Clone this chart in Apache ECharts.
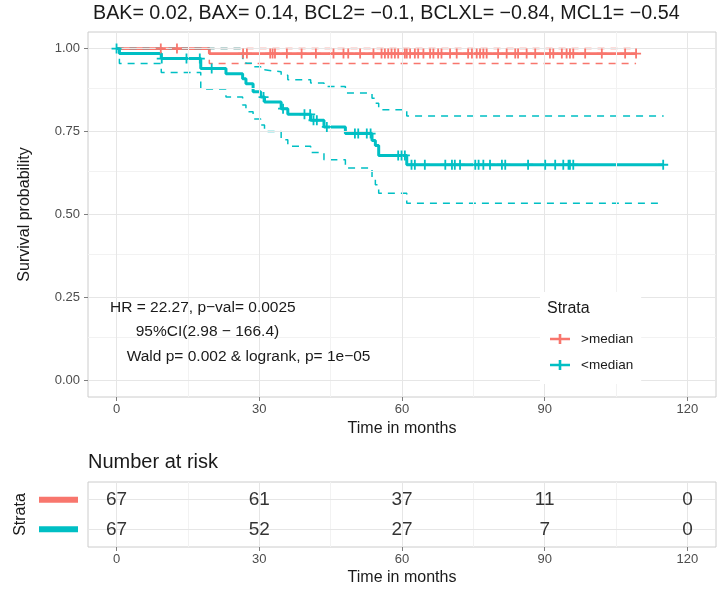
<!DOCTYPE html>
<html>
<head>
<meta charset="utf-8">
<script src="https://cdn.jsdelivr.net/npm/echarts@6/dist/echarts.min.js"></script>
<style>
  body { margin: 0; background: #fff; }
  #main { width: 727px; height: 590px; }
</style>
</head>
<body>
<div id="main"></div>
<script>
// survival steps (time in months)
var redTime  = [0, 19.5, 109.2];
var redSurv  = [1, 0.985, 0.985];
var redUpper = [1, 1, 1];
var redLower = [1, 0.955, 0.955];

var tealTime  = [0, 0.6, 9.4, 17.7, 23.0, 26.5, 27.2, 28.7, 30.3, 31.1, 34.6, 36.0, 40.8, 43.6, 48.1, 53.7, 54.4, 55.1, 61.0, 115.0];
var tealSurv  = [1, 0.985, 0.970, 0.940, 0.924, 0.909, 0.894, 0.870, 0.854, 0.839, 0.819, 0.802, 0.784, 0.764, 0.744, 0.723, 0.708, 0.678, 0.650, 0.650];
var tealUpper = [1, 1, 1, 1, 1, 0.970, 0.956, 0.945, 0.936, 0.930, 0.920, 0.906, 0.896, 0.886, 0.866, 0.850, 0.835, 0.816, 0.797, 0.797];
var tealLower = [1, 0.955, 0.928, 0.878, 0.854, 0.830, 0.810, 0.788, 0.770, 0.750, 0.725, 0.706, 0.687, 0.665, 0.640, 0.610, 0.590, 0.564, 0.534, 0.534];

// censor times
var redCensor = [9.3, 12.7, 26.6, 27.4, 32.3, 32.8, 33.3, 35.8, 38.9, 41.9, 45.6, 47.7, 48.7, 51.2, 54.0, 55.7, 56.4, 57.1, 57.8, 58.5, 59.2, 60.6,
  61.0, 61.7, 62.7, 63.4, 64.5, 65.9, 66.6, 67.6, 68.3, 70.1, 71.5, 73.9, 74.7, 75.7, 76.4, 77.1, 77.8, 80.2, 82.0, 83.8, 84.4, 86.2, 88.0,
  91.1, 91.8, 93.6, 94.6, 95.3, 96.0, 98.5, 102.0, 106.9, 109.2];
var tealCensor = [0, 9.5, 14.7, 17.5, 20.0, 30.9, 35.0, 39.5, 40.7, 41.4, 42.1, 44.2, 50.1, 50.8, 52.6, 53.4, 59.2, 59.9, 60.6, 62.0, 62.7,
  64.8, 69.1, 70.5, 71.1, 72.2, 75.4, 76.1, 77.1, 78.5, 81.0, 81.7, 86.5, 90.1, 92.2, 93.9, 95.0, 95.3, 96.0, 114.9];

// number at risk
var riskTimes = [0, 30, 60, 90, 120];
var riskAbove = [67, 61, 37, 11, 0];
var riskBelow = [67, 52, 27, 7, 0];

var xTicks = [0, 30, 60, 90, 120];
var xMinor = [15, 45, 75, 105];
var yTicks = [0, 0.25, 0.5, 0.75, 1];
var yMinor = [0.125, 0.375, 0.625, 0.875];

var colRed = '#F8766D';
var colTeal = '#00BFC4';
var gridMajor = '#E6E6E6';
var gridMinor = '#F2F2F2';
var textDark = '#1A1A1A';
var textAxis = '#4D4D4D';

var plusPath = 'path://M4.1,0H5.9V4.1H10V5.9H5.9V10H4.1V5.9H0V4.1H4.1Z';
var legendIcon = 'path://M0,3.7H20V6.3H0Z M8.7,0H11.3V10H8.7Z';

function pairs(t, v) {
    var out = [];
    for (var i = 0; i < t.length; i++) out.push([t[i], v[i]]);
    return out;
}
// value of the step curve at time t
function stepAt(t, v, x) {
    var s = v[0];
    for (var i = 0; i < t.length; i++) {
        if (t[i] <= x) s = v[i];
    }
    return s;
}
function censorPts(ct, t, v) {
    var out = [];
    for (var i = 0; i < ct.length; i++) out.push([ct[i], stepAt(t, v, ct[i])]);
    return out;
}
function gridLines(xs, ys, color) {
    var d = [];
    xs.forEach(function (x) { d.push({ xAxis: x, lineStyle: { color: color, width: 1, type: 'solid' } }); });
    ys.forEach(function (y) { d.push({ yAxis: y, lineStyle: { color: color, width: 1, type: 'solid' } }); });
    return d;
}

var chart = echarts.init(document.getElementById('main'), null, { renderer: 'canvas' });

var xAxisBase = function (idx) {
    return {
        type: 'value', gridIndex: idx, min: -6, max: 126,
        axisLine: { show: false, onZero: false },
        axisTick: { show: true, length: 4, customValues: xTicks, lineStyle: { color: '#7F7F7F' } },
        axisLabel: { customValues: xTicks, color: textAxis, fontSize: 13, margin: 6, fontFamily: 'Liberation Sans' },
        splitLine: { show: false },
        name: 'Time in months', nameLocation: 'middle', nameGap: 23,
        nameTextStyle: { fontSize: 16, color: textDark, fontFamily: 'Liberation Sans' }
    };
};

var lineSeries = function (name, data, color, width, dashed, z) {
    return {
        name: name, type: 'line', step: 'end', data: data,
        xAxisIndex: 0, yAxisIndex: 0,
        showSymbol: false, symbol: 'none', z: z,
        lineStyle: { color: color, width: width, type: dashed ? [7, 6] : 'solid' },
        itemStyle: { color: color },
        emphasis: { disabled: true }
    };
};

var censorSeries = function (name, data, color) {
    return {
        name: name, type: 'scatter', data: data,
        xAxisIndex: 0, yAxisIndex: 0,
        symbol: plusPath, symbolSize: 10, z: 6,
        itemStyle: { color: color, opacity: 1 },
        emphasis: { disabled: true }
    };
};

var riskSeries = function (row, counts) {
    var d = [];
    for (var i = 0; i < riskTimes.length; i++) d.push([riskTimes[i], row, counts[i]]);
    return {
        type: 'scatter', data: d, xAxisIndex: 1, yAxisIndex: 1,
        symbolSize: 0, z: 5,
        label: {
            show: true, position: 'inside', fontSize: 19, color: '#000',
            fontFamily: 'Liberation Sans',
            formatter: function (p) { return String(p.value[2]); }
        },
        emphasis: { disabled: true }
    };
};

var option = {
    animation: false,
    backgroundColor: '#fff',
    textStyle: { fontFamily: 'Liberation Sans' },
    grid: [
        { left: 88, top: 32, width: 628, height: 365, show: true, borderColor: '#CCCCCC', borderWidth: 1, backgroundColor: 'transparent', containLabel: false },
        { left: 88, top: 482, width: 628, height: 65, show: true, borderColor: '#CCCCCC', borderWidth: 1, backgroundColor: 'transparent', containLabel: false }
    ],
    xAxis: [xAxisBase(0), xAxisBase(1)],
    yAxis: [
        {
            type: 'value', gridIndex: 0, min: -0.05, max: 1.05,
            axisLine: { show: false, onZero: false },
            axisTick: { show: true, length: 4, customValues: yTicks, lineStyle: { color: '#7F7F7F' } },
            axisLabel: {
                customValues: yTicks, color: textAxis, fontSize: 13, margin: 8,
                formatter: function (v) { return v.toFixed(2); }
            },
            splitLine: { show: false },
            name: 'Survival probability', nameLocation: 'middle', nameGap: 55, nameRotate: 90,
            nameTextStyle: { fontSize: 16, color: textDark }
        },
        {
            type: 'value', gridIndex: 1, min: 0.4, max: 2.6, inverse: true,
            axisLine: { show: false, onZero: false },
            axisTick: { show: false, customValues: [1, 2] },
            axisLabel: {
                customValues: [1, 2], margin: 10,
                formatter: function (v) { return v === 1 ? '{r| }' : '{t| }'; },
                rich: {
                    r: { width: 39, height: 6, backgroundColor: colRed },
                    t: { width: 39, height: 6, backgroundColor: colTeal }
                }
            },
            splitLine: { show: false },
            name: 'Strata', nameLocation: 'middle', nameGap: 57, nameRotate: 90,
            nameTextStyle: { fontSize: 16, color: textDark }
        }
    ],
    legend: {
        left: 540, top: 292, orient: 'vertical',
        padding: [40, 8, 12, 10],
        backgroundColor: '#fff',
        itemWidth: 20, itemHeight: 10, itemGap: 12,
        selectedMode: false,
        z: 8,
        formatter: function (name) { return '{p|' + name + '}'; },
        textStyle: {
            fontSize: 13.5, color: textDark,
            rich: { p: { fontSize: 13.5, color: textDark, padding: [0, 0, 0, 6] } }
        },
        data: [
            { name: '>median', icon: legendIcon, itemStyle: { color: colRed, opacity: 1 } },
            { name: '<median', icon: legendIcon, itemStyle: { color: colTeal, opacity: 1 } }
        ]
    },
    graphic: [
        { type: 'text', left: 93, top: 4, z: 10, style: { text: 'BAK= 0.02, BAX= 0.14, BCL2= \u22120.1, BCLXL= \u22120.84, MCL1= \u22120.54', fontSize: 19.7, fill: textDark, fontFamily: 'Liberation Sans' } },
        { type: 'text', x: 110, y: 307.3, z: 10, style: { text: 'HR = 22.27, p\u2212val= 0.0025', fontSize: 15.5, fill: textDark, verticalAlign: 'middle', fontFamily: 'Liberation Sans' } },
        { type: 'text', x: 135.7, y: 331.7, z: 10, style: { text: '95%CI(2.98 \u2212 166.4)', fontSize: 15.5, fill: textDark, verticalAlign: 'middle', fontFamily: 'Liberation Sans' } },
        { type: 'text', x: 126.7, y: 356.7, z: 10, style: { text: 'Wald p= 0.002 & logrank, p= 1e\u221205', fontSize: 15.5, fill: textDark, verticalAlign: 'middle', fontFamily: 'Liberation Sans' } },
        { type: 'text', x: 547, y: 309, z: 10, style: { text: 'Strata', fontSize: 16, fill: textDark, verticalAlign: 'middle', fontFamily: 'Liberation Sans' } },
        { type: 'text', x: 88, y: 462.7, z: 10, style: { text: 'Number at risk', fontSize: 20, fill: textDark, verticalAlign: 'middle', fontFamily: 'Liberation Sans' } }
    ],
    series: [
        // panel grid lines
        {
            type: 'line', data: [], xAxisIndex: 0, yAxisIndex: 0, z: 1, silent: true,
            markLine: { silent: true, symbol: ['none', 'none'], label: { show: false }, animation: false,
                data: gridLines(xMinor, yMinor, gridMinor).concat(gridLines(xTicks, yTicks, gridMajor)) }
        },
        {
            type: 'line', data: [], xAxisIndex: 1, yAxisIndex: 1, z: 1, silent: true,
            markLine: { silent: true, symbol: ['none', 'none'], label: { show: false }, animation: false,
                data: gridLines(xMinor, [], gridMinor).concat(gridLines(xTicks, [1, 2], gridMajor)) }
        },
        lineSeries('>median curve', pairs(redTime, redSurv), colRed, 2.8, false, 3),
        lineSeries('<median curve', pairs(tealTime, tealSurv), colTeal, 3, false, 3),
        lineSeries('>median upper', pairs(redTime, redUpper), colRed, 1.5, true, 4),
        lineSeries('>median lower', pairs(redTime, redLower), colRed, 1.5, true, 4),
        lineSeries('<median upper', pairs(tealTime, tealUpper), colTeal, 1.5, true, 4),
        lineSeries('<median lower', pairs(tealTime, tealLower), colTeal, 1.5, true, 4),
        censorSeries('>median', censorPts(redCensor, redTime, redSurv), colRed),
        censorSeries('<median', censorPts(tealCensor, tealTime, tealSurv), colTeal),
        riskSeries(1, riskAbove),
        riskSeries(2, riskBelow)
    ]
};

chart.setOption(option);
</script>
</body>
</html>
